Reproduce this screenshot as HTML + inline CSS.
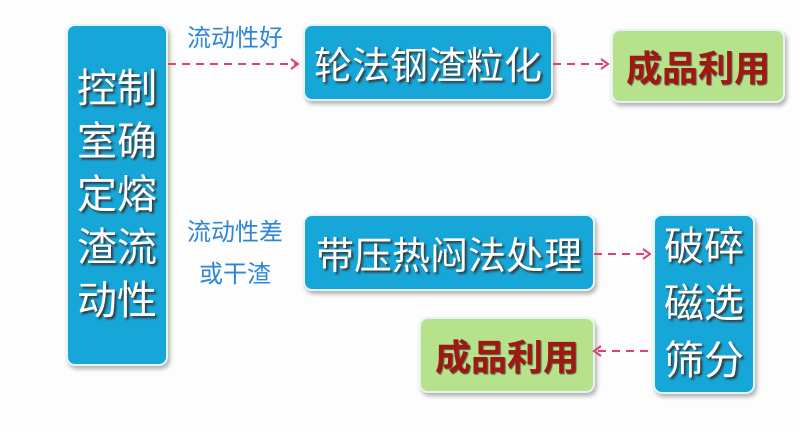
<!DOCTYPE html><html><head><meta charset="utf-8"><style>
body{margin:0;width:800px;height:432px;background:#fdfdfd;position:relative;overflow:hidden;font-family:"Liberation Sans","Noto Sans CJK SC",sans-serif}
.b{position:absolute;background:#16a6d8;border-radius:9px;border:2px solid #e8f3f8;box-shadow:2px 3px 4px rgba(0,0,0,.3);color:#fff;text-shadow:2px 2px 2px #333;display:flex;align-items:center;justify-content:center;text-align:center}
.g{background:#b6e28c;color:#a01810;text-shadow:1px 1px 1px #555;font-weight:bold}
.l{position:absolute;color:#2f86d8;font-size:24px;text-align:center;width:130px;line-height:28px}
svg{position:absolute;left:0;top:0}
</style></head><body>
<div class="b" style="left:66px;top:24px;width:98px;height:338px;font-size:40px;line-height:53px">控制<br>室确<br>定熔<br>渣流<br>动性</div>
<div class="b" style="left:303px;top:24px;width:246px;height:73px;font-size:38px">轮法钢渣粒化</div>
<div class="b g" style="left:611px;top:29px;width:170px;height:70px;font-size:36px">成品利用</div>
<div class="b" style="left:303px;top:214px;width:288px;height:73px;font-size:38px">带压热闷法处理</div>
<div class="b" style="left:653px;top:214px;width:98px;height:176px;font-size:40px;line-height:57px">破碎<br>磁选<br>筛分</div>
<div class="b g" style="left:419px;top:317px;width:172px;height:72px;font-size:36px">成品利用</div>
<div class="l" style="left:170px;top:25px">流动性好</div>
<div class="l" style="left:170px;top:219px">流动性差</div>
<div class="l" style="left:170px;top:261px">或干渣</div>
<svg width="800" height="432" fill="none" stroke="#e0407a" stroke-width="2">
<g stroke-dasharray="8,6">
<line x1="168" y1="64" x2="296" y2="64"/><line x1="553" y1="64" x2="604" y2="64"/>
<line x1="594" y1="254" x2="646" y2="254"/><line x1="598" y1="351" x2="651" y2="351"/></g>
<polyline points="291,59 298,64 291,69"/><polyline points="601,59 608,64 601,69"/>
<polyline points="643,249 650,254 643,259"/><polyline points="601,346 594,351 601,356"/>
</svg>
</body></html>
